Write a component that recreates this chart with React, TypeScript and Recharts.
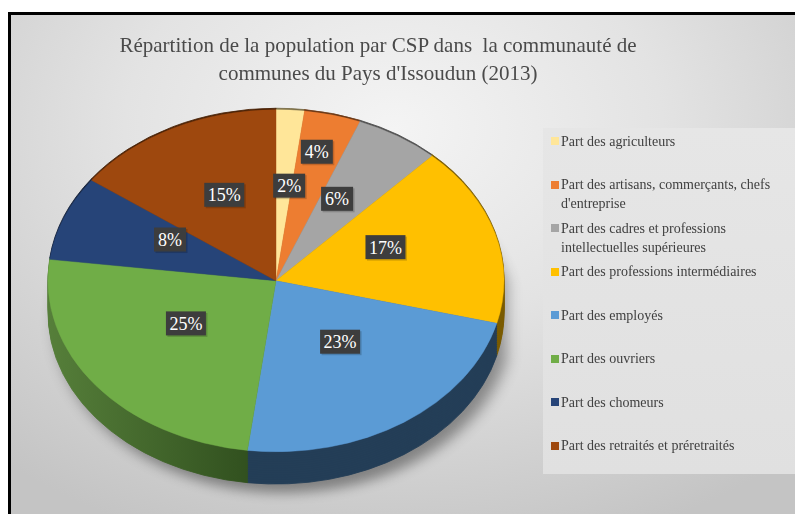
import { PieChart, Pie, Cell } from "recharts";

const categories = [
  "Part des agriculteurs",
  "Part des artisans, commerçants, chefs d'entreprise",
  "Part des cadres et professions intellectuelles supérieures",
  "Part des professions intermédiaires",
  "Part des employés",
  "Part des ouvriers",
  "Part des chomeurs",
  "Part des retraités et préretraités",
];
const shares = [2, 4, 6, 17, 23, 25, 8, 15];
const colors = ["#FFE699", "#ED7D31", "#A5A5A5", "#FFC000", "#5B9BD5", "#70AD47", "#264478", "#9E480E"];
const sideColors = ["#7a6e48", "#6e3a17", "#4f4f4f", "#7a5c00", "#243e57", "url(#greenSide)", "#121f38", "#4a2206"];

const pieData = categories.map((name, i) => ({ name, value: shares[i] }));
const total = shares.reduce((a, b) => a + b, 0);

const K = 0.75; // vertical squash of the pie
const CX = 235;
const CY = 240;
const R = 228;
const DEPTH = 43;
const depthSteps = Array.from({ length: 16 }, (_, i) => DEPTH - i * 3);
const SERIF = "'Liberation Serif', 'Times New Roman', serif";

const renderLabel = (p: any) => {
  const RAD = Math.PI / 180;
  // small slice following another small slice: push its label outward
  const crowded = p.percent < 0.05 && p.index > 0 && shares[p.index - 1] / total < 0.05;
  const r = p.outerRadius * (crowded ? 0.72 : 0.5);
  const x = p.cx + r * Math.cos(-p.midAngle * RAD) + (p.percent < 0.03 ? 6 : 0);
  const y = p.cy + r * Math.sin(-p.midAngle * RAD) - 13;
  const text = `${p.value}%`;
  const w = text.length > 2 ? 40 : 32;
  return (
    <g transform={`translate(${x},${y}) scale(1,${1 / K})`}>
      <rect x={-w / 2 + 1.5} y={-10.5} width={w} height={24} fill="#000" opacity={0.18} />
      <rect x={-w / 2} y={-12} width={w} height={24} fill="#3d3d3d" />
      <text x={0} y={0} dy="0.36em" textAnchor="middle" fill="#fff" fontSize={18} fontFamily={SERIF}>
        {text}
      </text>
    </g>
  );
};

export default function App() {
  return (
    <div style={{ position: "fixed", left: 0, top: 0, width: 795, height: 514, overflow: "hidden" }}>
      <div
        style={{
          position: "absolute",
          left: 8,
          top: 12,
          width: 800,
          height: 520,
          boxSizing: "border-box",
          borderLeft: "3px solid #000",
          borderTop: "3px solid #000",
          background:
            "radial-gradient(ellipse 75% 85% at 48% 22%, #f4f4f4 0%, #e3e3e3 45%, #d2d2d2 75%, #c4c4c4 100%)",
        }}
      >
        <div
          style={{
            position: "absolute",
            left: 0,
            top: 16,
            width: 734,
            textAlign: "center",
            fontFamily: SERIF,
            fontSize: 21,
            lineHeight: "28px",
            color: "#4a4a4a",
          }}
        >
          Répartition de la population par CSP dans&nbsp; la communauté de
          <br />
          communes du Pays d'Issoudun (2013)
        </div>

        <div
          style={{
            position: "absolute",
            left: 532,
            top: 113,
            width: 300,
            height: 346,
            background: "linear-gradient(180deg, #e6e6e6 0%, #e0e0e0 100%)",
          }}
        />
        <div style={{ position: "absolute", left: 540, top: 116.5, width: 235, fontFamily: SERIF, fontSize: 14, color: "#404040" }}>
          {categories.map((name, i) => (
            <div key={name} style={{ display: "flex", alignItems: "flex-start", height: 43.5 }}>
              <div style={{ width: 8, height: 8, background: colors[i], marginTop: 5.5, marginRight: 2, flexShrink: 0 }} />
              <div style={{ lineHeight: "19px" }}>{name}</div>
            </div>
          ))}
        </div>

        <div
          style={{
            position: "absolute",
            left: 25,
            top: 82,
            width: 470,
            height: 560,
            transform: `scaleY(${K})`,
            transformOrigin: "0 0",
            filter: "blur(8px)",
            opacity: 0.45,
          }}
        >
          <PieChart width={470} height={560}>
            <Pie
              data={pieData}
              dataKey="value"
              cx={CX + 8}
              cy={CY + DEPTH + 12}
              outerRadius={R}
              startAngle={90}
              endAngle={-270}
              stroke="none"
              fill="#222"
              isAnimationActive={false}
            />
          </PieChart>
        </div>

        <div
          style={{
            position: "absolute",
            left: 25,
            top: 82,
            width: 470,
            height: 530,
            transform: `scaleY(${K})`,
            transformOrigin: "0 0",
          }}
        >
          <PieChart width={470} height={530}>
            <defs>
              <linearGradient id="greenSide" x1="0" y1="0" x2="1" y2="0">
                <stop offset="0%" stopColor="#567f3a" />
                <stop offset="100%" stopColor="#2c4a1b" />
              </linearGradient>
            </defs>
            {depthSteps.map((d) => (
              <Pie
                key={d}
                data={pieData}
                dataKey="value"
                cx={CX}
                cy={CY + d}
                outerRadius={R}
                startAngle={90}
                endAngle={-270}
                isAnimationActive={false}
              >
                {pieData.map((e, i) => (
                  <Cell key={e.name} fill={sideColors[i]} stroke={sideColors[i]} />
                ))}
              </Pie>
            ))}
            <Pie
              data={pieData}
              dataKey="value"
              cx={CX}
              cy={CY}
              outerRadius={R}
              startAngle={90}
              endAngle={-270}
              label={renderLabel}
              labelLine={false}
              isAnimationActive={false}
            >
              {pieData.map((e, i) => (
                <Cell key={e.name} fill={colors[i]} stroke={colors[i]} strokeWidth={0.5} />
              ))}
            </Pie>
          </PieChart>
        </div>
      </div>
    </div>
  );
}
